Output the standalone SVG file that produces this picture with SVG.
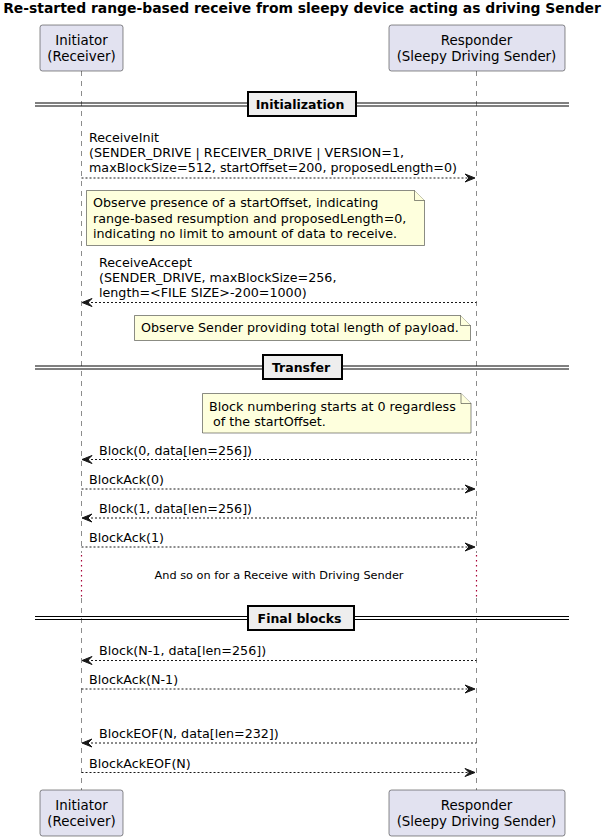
<svg xmlns="http://www.w3.org/2000/svg" width="604" height="837" viewBox="0 0 604 837">
<defs>
<style>
text{font-family:"DejaVu Sans","Liberation Sans",sans-serif;fill:#000}
.title{font-size:13.9px;font-weight:bold}
.part{font-size:13.4px}
.msg{font-size:12.7px}
.div{font-size:12.5px;font-weight:bold}
.delay{font-size:11.3px}
.pbox{fill:#E2E2F0;stroke:#181818;stroke-width:0.5}
.life{stroke:#181818;stroke-width:0.5;stroke-dasharray:5,5;fill:none}
.dot{stroke:#A80036;stroke-width:1.2;stroke-dasharray:1.5,3.5;fill:none}
.note{fill:#FEFFDD;stroke:#181818;stroke-width:0.5}
.arr{stroke:#181818;stroke-width:1;stroke-dasharray:2,2;fill:none}
.head{fill:#181818;stroke:#181818;stroke-width:1}
.dline{stroke:#000;stroke-width:1}
.dbox{fill:#EEEEEE;stroke:#000;stroke-width:2}
</style>
</defs>
<text class="title" x="302" y="13" text-anchor="middle">Re-started range-based receive from sleepy device acting as driving Sender</text>

<g id="lifelines">
<line class="life" x1="81.5" y1="71" x2="81.5" y2="553"/>
<line class="dot" x1="81.5" y1="555" x2="81.5" y2="597"/>
<line class="life" x1="81.5" y1="598" x2="81.5" y2="790"/>
<line class="life" x1="476.5" y1="71" x2="476.5" y2="553"/>
<line class="dot" x1="476.5" y1="555" x2="476.5" y2="597"/>
<line class="life" x1="476.5" y1="598" x2="476.5" y2="790"/>
</g>

<g id="initiator">
<rect class="pbox" x="40" y="25" width="83" height="46" rx="2.5"/>
<text class="part" x="81.5" y="45" text-anchor="middle">Initiator</text>
<text class="part" x="81.5" y="60.5" text-anchor="middle">(Receiver)</text>
</g>
<g id="responder">
<rect class="pbox" x="389" y="25" width="176" height="46" rx="2.5"/>
<text class="part" x="476.5" y="45" text-anchor="middle">Responder</text>
<text class="part" x="476.5" y="60.5" text-anchor="middle">(Sleepy Driving Sender)</text>
</g>
<g id="initiator-bottom">
<rect class="pbox" x="40" y="790" width="83" height="46" rx="2.5"/>
<text class="part" x="81.5" y="810" text-anchor="middle">Initiator</text>
<text class="part" x="81.5" y="825.5" text-anchor="middle">(Receiver)</text>
</g>
<g id="responder-bottom">
<rect class="pbox" x="389" y="790" width="176" height="46" rx="2.5"/>
<text class="part" x="476.5" y="810" text-anchor="middle">Responder</text>
<text class="part" x="476.5" y="825.5" text-anchor="middle">(Sleepy Driving Sender)</text>
</g>

<g id="div-init">
<line class="dline" x1="35" y1="103" x2="569" y2="103"/>
<line class="dline" x1="35" y1="106" x2="569" y2="106"/>
<rect class="dbox" x="248" y="92" width="108" height="24"/>
<text class="div" x="300" y="109" text-anchor="middle">Initialization</text>
</g>
<g id="div-transfer">
<line class="dline" x1="35" y1="366" x2="569" y2="366"/>
<line class="dline" x1="35" y1="369" x2="569" y2="369"/>
<rect class="dbox" x="263" y="355" width="79" height="24"/>
<text class="div" x="301" y="372" text-anchor="middle">Transfer</text>
</g>
<g id="div-final">
<line class="dline" x1="35" y1="616.5" x2="569" y2="616.5"/>
<line class="dline" x1="35" y1="619.5" x2="569" y2="619.5"/>
<rect class="dbox" x="248" y="606" width="106" height="24"/>
<text class="div" x="299.5" y="622.5" text-anchor="middle">Final blocks</text>
</g>

<g id="note1">
<path class="note" d="M86.5,190.5 L414.5,190.5 L424.5,200.5 L424.5,245.5 L86.5,245.5 Z"/>
<path class="note" d="M414.5,190.5 L414.5,200.5 L424.5,200.5"/>
<text class="msg" x="93" y="207">Observe presence of a startOffset, indicating</text>
<text class="msg" x="93" y="222.5">range-based resumption and proposedLength=0,</text>
<text class="msg" x="93" y="238">indicating no limit to amount of data to receive.</text>
</g>
<g id="note2">
<path class="note" d="M134.5,315.5 L460.5,315.5 L470.5,325.5 L470.5,340.5 L134.5,340.5 Z"/>
<path class="note" d="M460.5,315.5 L460.5,325.5 L470.5,325.5"/>
<text class="msg" x="141" y="332">Observe Sender providing total length of payload.</text>
</g>
<g id="note3">
<path class="note" d="M202.5,393.5 L461,393.5 L471,403.5 L471,433 L202.5,433 Z"/>
<path class="note" d="M461,393.5 L461,403.5 L471,403.5"/>
<text class="msg" x="209" y="410.5">Block numbering starts at 0 regardless</text>
<text class="msg" x="209" y="426" xml:space="preserve"> of the startOffset.</text>
</g>

<g id="connectors">
<line class="arr" x1="81.5" y1="178" x2="474" y2="178"/>
<polygon class="head" points="465,174 475,178 465,182 469,178"/>
<line class="arr" x1="83" y1="302.5" x2="476.5" y2="302.5"/>
<polygon class="head" points="92,298.5 82,302.5 92,306.5 88,302.5"/>
<line class="arr" x1="83" y1="459.5" x2="476.5" y2="459.5"/>
<polygon class="head" points="92,455.5 82,459.5 92,463.5 88,459.5"/>
<line class="arr" x1="81.5" y1="489" x2="474" y2="489"/>
<polygon class="head" points="465,485 475,489 465,493 469,489"/>
<line class="arr" x1="83" y1="518" x2="476.5" y2="518"/>
<polygon class="head" points="92,514 82,518 92,522 88,518"/>
<line class="arr" x1="81.5" y1="547" x2="474" y2="547"/>
<polygon class="head" points="465,543 475,547 465,551 469,547"/>
<line class="arr" x1="83" y1="660.5" x2="476.5" y2="660.5"/>
<polygon class="head" points="92,656.5 82,660.5 92,664.5 88,660.5"/>
<line class="arr" x1="81.5" y1="689" x2="474" y2="689"/>
<polygon class="head" points="465,685 475,689 465,693 469,689"/>
<line class="arr" x1="83" y1="743" x2="476.5" y2="743"/>
<polygon class="head" points="92,739 82,743 92,747 88,743"/>
<line class="arr" x1="81.5" y1="772.5" x2="474" y2="772.5"/>
<polygon class="head" points="465,768.5 475,772.5 465,776.5 469,772.5"/>
</g>

<g id="labels">
<text class="msg" x="89" y="142">ReceiveInit</text>
<text class="msg" x="89" y="157">(SENDER_DRIVE | RECEIVER_DRIVE | VERSION=1,</text>
<text class="msg" x="89" y="172">maxBlockSize=512, startOffset=200, proposedLength=0)</text>
<text class="msg" x="99" y="266.5">ReceiveAccept</text>
<text class="msg" x="99" y="281.5">(SENDER_DRIVE, maxBlockSize=256,</text>
<text class="msg" x="99" y="296.5">length=&lt;FILE SIZE&gt;-200=1000)</text>
<text class="msg" x="99" y="455">Block(0, data[len=256])</text>
<text class="msg" x="89" y="484">BlockAck(0)</text>
<text class="msg" x="99" y="513">Block(1, data[len=256])</text>
<text class="msg" x="89" y="542">BlockAck(1)</text>
<text class="delay" x="279" y="578.5" text-anchor="middle">And so on for a Receive with Driving Sender</text>
<text class="msg" x="99" y="655">Block(N-1, data[len=256])</text>
<text class="msg" x="89" y="684">BlockAck(N-1)</text>
<text class="msg" x="99" y="738">BlockEOF(N, data[len=232])</text>
<text class="msg" x="89" y="767.5">BlockAckEOF(N)</text>
</g>
</svg>
